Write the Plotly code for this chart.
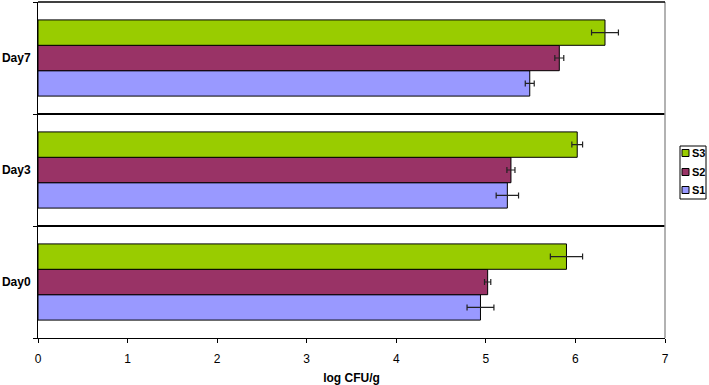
import plotly.graph_objects as go

categories = ["Day0", "Day3", "Day7"]
series_names = ["S1", "S2", "S3"]
s1_values = [4.94, 5.24, 5.49]
s1_errors = [0.15, 0.125, 0.05]
s2_values = [5.02, 5.28, 5.82]
s2_errors = [0.035, 0.045, 0.05]
s3_values = [5.90, 6.02, 6.33]
s3_errors = [0.18, 0.06, 0.15]
colors = ["#9999FF", "#993366", "#99CC00"]
x_ticks = [0, 1, 2, 3, 4, 5, 6, 7]

W, H = 709, 385
ML, MR, MT, MB = 38, 44, 2, 47
PW, PH = W - ML - MR, H - MT - MB


def px(xp):
    return (xp - ML) / PW


def py(yp):
    return (H - MB - yp) / PH


fig = go.Figure()
for name, vals, errs, col in zip(series_names, [s1_values, s2_values, s3_values],
                                 [s1_errors, s2_errors, s3_errors], colors):
    fig.add_trace(go.Bar(
        y=categories, x=vals, name=name, orientation="h",
        marker=dict(color=col, line=dict(color="#000000", width=1)),
        error_x=dict(type="data", array=errs, visible=True, color="#222222",
                     thickness=1.2, width=3),
    ))

font_family = "Liberation Sans, Arial, sans-serif"

shapes = [
    dict(type="line", xref="paper", yref="paper", x0=1, x1=1, y0=0, y1=1,
         line=dict(color="#999999", width=1.5)),
    dict(type="line", xref="paper", yref="paper", x0=0, x1=1, y0=1, y1=1,
         line=dict(color="#000000", width=1.5)),
    # legend box
    dict(type="rect", xref="paper", yref="paper", x0=px(680), x1=px(706),
         y0=py(199), y1=py(146), line=dict(color="#000000", width=1),
         fillcolor="white", layer="above"),
]
annotations = []
legend_rows = [153, 172, 190]
for i, (name, col) in enumerate(zip(reversed(series_names), reversed(colors))):
    yc = legend_rows[i]
    shapes.append(dict(type="rect", xref="paper", yref="paper",
                       x0=px(682), x1=px(689), y0=py(yc + 3.5), y1=py(yc - 3.5),
                       line=dict(color="#000000", width=1), fillcolor=col,
                       layer="above"))
    annotations.append(dict(xref="paper", yref="paper", x=px(690), y=py(yc),
                            xanchor="left", yanchor="middle", text="<b>%s</b>" % name,
                            showarrow=False, font=dict(size=11, family=font_family,
                                                       color="#000000")))

fig.update_layout(
    width=W, height=H,
    margin=dict(l=ML, r=MR, t=MT, b=MB, autoexpand=False),
    paper_bgcolor="white", plot_bgcolor="white",
    barmode="group", bargap=0.32, bargroupgap=0,
    font=dict(family=font_family, size=11, color="#000000"),
    showlegend=False,
    xaxis=dict(
        range=[0, 7], tickvals=x_ticks, showgrid=False, zeroline=False,
        showline=True, linecolor="#000000", linewidth=1, automargin=False,
        ticks="outside", ticklen=4, tickcolor="#000000",
        tickfont=dict(size=12), ticklabelstandoff=6,
        title=dict(text="log CFU/g", font=dict(size=12, weight="bold"), standoff=14),
    ),
    yaxis=dict(
        range=[-0.5, 2.5], tickson="boundaries", showgrid=True,
        gridcolor="#000000", gridwidth=1.5, automargin=False,
        showline=True, linecolor="#000000", linewidth=1,
        ticks="outside", ticklen=4, tickcolor="#000000",
        tickfont=dict(size=12, weight="bold"), ticklabelstandoff=4,
        categoryorder="array", categoryarray=categories,
    ),
    shapes=shapes,
    annotations=annotations,
)

fig.write_html("out.html", config={"displayModeBar": False},
               post_script="document.body.style.margin='0';document.body.style.overflow='hidden';")
